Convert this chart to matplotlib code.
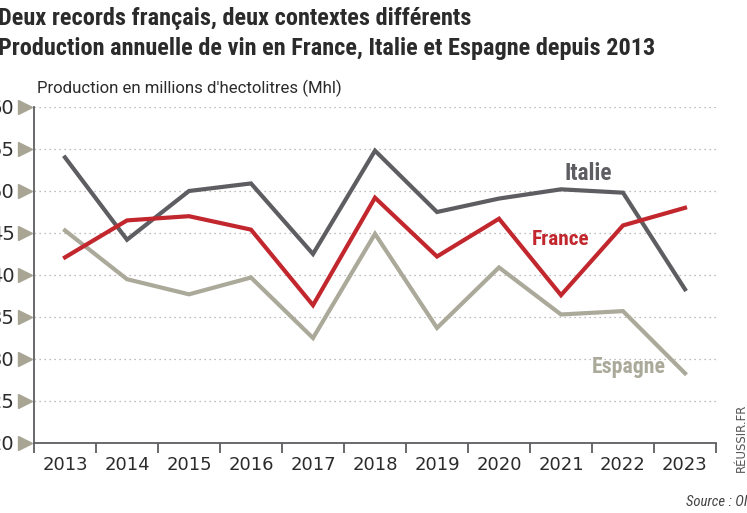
import matplotlib
matplotlib.use("Agg")
import matplotlib.pyplot as plt
from matplotlib import font_manager

years = [2013, 2014, 2015, 2016, 2017, 2018, 2019, 2020, 2021, 2022, 2023]
italie = [54.0, 44.2, 50.0, 50.9, 42.5, 54.8, 47.5, 49.1, 50.2, 49.8, 38.3]
france = [42.1, 46.5, 47.0, 45.4, 36.4, 49.2, 42.2, 46.7, 37.6, 45.9, 48.0]
espagne = [45.3, 39.5, 37.7, 39.7, 32.5, 44.9, 33.7, 40.9, 35.3, 35.7, 28.3]
yticks = [20, 25, 30, 35, 40, 45, 50, 55, 60]

c_italie = "#5e5e62"
c_france = "#c1272d"
c_espagne = "#aba999"
c_text = "#2b2b2b"

names = {f.name for f in font_manager.fontManager.ttflist}
narrow = "DejaVu Sans"
for cand in ["Liberation Sans Narrow", "Roboto Condensed", "Open Sans Condensed", "Roboto", "Lato"]:
    if cand in names:
        narrow = cand
        break
plain = "Roboto" if "Roboto" in names else "DejaVu Sans"

fig = plt.figure(figsize=(7.47, 5.13), dpi=100)
ax = fig.add_axes([34 / 747, 70 / 513, 682 / 747, 336 / 513])
renderer = fig.canvas.get_renderer()


def fit(t, width_px):
    # shrink/grow a text so it spans the wanted width in pixels
    w = t.get_window_extent(renderer).width
    t.set_fontsize(t.get_fontsize() * width_px / w)


ax.plot(years, italie, color=c_italie, lw=3, solid_joinstyle="miter", zorder=3)
ax.plot(years, france, color=c_france, lw=3, solid_joinstyle="miter", zorder=4)
ax.plot(years, espagne, color=c_espagne, lw=3, solid_joinstyle="miter", zorder=2)

ax.set_xlim(2012.5, 2023.5)
ax.set_ylim(20, 60)

# category ticks between the years, labels centred on the years
ax.set_xticks([y - 0.5 for y in years] + [2023.5])
ax.set_xticklabels([])
ax.set_xticks(years, minor=True)
ax.set_xticklabels([str(y) for y in years], minor=True, fontsize=13, color=c_text)
ax.tick_params(axis="x", which="major", direction="out", length=7, width=1.3, color=c_italie)
ax.tick_params(axis="x", which="minor", length=0, pad=9)

ax.set_yticks(yticks)
ax.set_yticklabels([str(v) for v in yticks], fontsize=14, color=c_text)
ax.tick_params(axis="y", length=0, pad=14)
ax.grid(axis="y", linestyle=(0, (1, 3)), color="#a8a8a8", lw=0.9)
ax.set_axisbelow(True)

for s in ["top", "right"]:
    ax.spines[s].set_visible(False)
ax.spines["left"].set_color(c_italie)
ax.spines["bottom"].set_color(c_italie)
ax.spines["left"].set_linewidth(1.3)
ax.spines["bottom"].set_linewidth(1.3)

# little triangles next to the y labels
ax.plot([-0.0132] * len(yticks), yticks, marker=">", ls="none", ms=10,
        color="#a8a594", transform=ax.get_yaxis_transform(), clip_on=False)

# series labels
t1 = ax.text(2021.44, 52.1, "Italie", color=c_italie, fontsize=14, fontweight="bold",
             family=narrow, ha="center", va="center")
t2 = ax.text(2021.0, 44.2, "France", color=c_france, fontsize=14, fontweight="bold",
             family=narrow, ha="center", va="center")
t3 = ax.text(2022.1, 29.05, "Espagne", color=c_espagne, fontsize=14, fontweight="bold",
             family=narrow, ha="center", va="center")
fit(t1, 48)
fit(t2, 58)
fit(t3, 74)

h1 = fig.text(-0.003, 1 - 18 / 513, "Deux records français, deux contextes différents",
              fontsize=16, fontweight="bold", family=narrow, color=c_text, va="center")
h2 = fig.text(-0.003, 1 - 48 / 513, "Production annuelle de vin en France, Italie et Espagne depuis 2013",
              fontsize=16, fontweight="bold", family=narrow, color=c_text, va="center")
fit(h1, 472)
fit(h2, 659)
sub = fig.text(37 / 747, 1 - 88 / 513, "Production en millions d'hectolitres (Mhl)",
               fontsize=11.5, family=plain, color=c_text, va="center")
fit(sub, 306)

fig.text(0.992, 0.146, "RÉUSSIR.FR", rotation=90, fontsize=8.5, color="#555555",
         ha="center", va="center")
src = fig.text(686 / 747, 1 - 502 / 513, "Source :", fontsize=10, style="italic",
               family=narrow, color="#444444", va="center")
fit(src, 46)
src.set_text("Source : OIV")

fig.savefig("out.png", dpi=100, facecolor="white")
